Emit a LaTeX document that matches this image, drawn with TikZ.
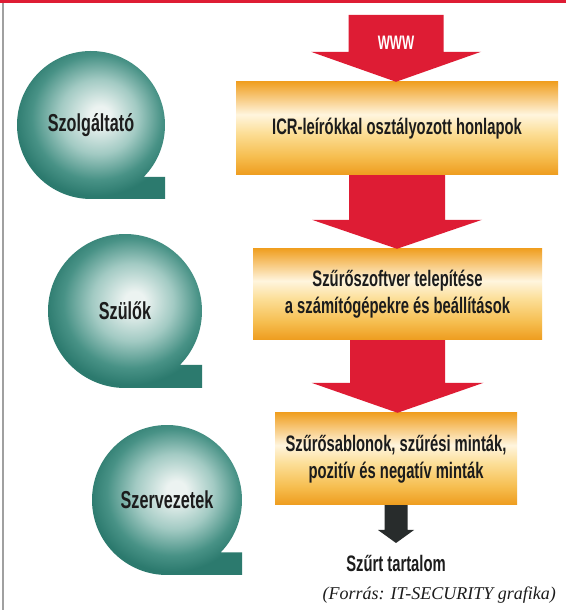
\documentclass[tikz,border=0pt]{standalone}
\usepackage{fontspec}
\setmainfont{Liberation Sans}
\newfontfamily\condf{Liberation Sans}[FakeStretch=0.66]
\newfontfamily\capf{Liberation Serif}
\usetikzlibrary{calc}
\definecolor{qin}{RGB}{236,243,241}
\definecolor{qmid}{RGB}{162,202,195}
\definecolor{qout}{RGB}{72,146,134}
\definecolor{qedge}{RGB}{44,122,110}
\definecolor{arrred}{RGB}{222,28,52}
\definecolor{boxtop}{RGB}{240,160,35}
\definecolor{boxlt}{RGB}{255,245,222}
\definecolor{boxpale}{RGB}{252,222,150}
\definecolor{boxlo}{RGB}{246,190,80}
\definecolor{boxbot}{RGB}{238,156,30}
\definecolor{ink}{RGB}{28,28,28}
\definecolor{darkarr}{RGB}{40,44,44}
\definecolor{framegray}{RGB}{160,160,160}
\pgfdeclareradialshading{qball}{\pgfpoint{3bp}{2bp}}{color(0bp)=(qin); color(3bp)=(qin); color(12bp)=(qmid); color(20bp)=(qout); color(25bp)=(qedge); color(50bp)=(qedge)}
\pgfdeclareverticalshading{boxsh}{100bp}{color(0bp)=(boxbot); color(25bp)=(boxbot); color(35bp)=(boxlo); color(47.5bp)=(boxpale); color(57.5bp)=(boxlt); color(75bp)=(boxtop); color(100bp)=(boxtop)}
\newcommand\blockarrow[6]{%
  \fill[#6] let \p1=(#1), \p2=(#2) in
   (\x1-#3pt,\y1) -- (\x1+#3pt,\y1) -- (\x1+#3pt,\y2+#5pt) -- (\x1+#4pt,\y2+#5pt)
   -- (\x1,\y2) -- (\x1-#4pt,\y2+#5pt) -- (\x1-#3pt,\y2+#5pt) -- cycle;}
\newcommand\qball[2]{%
  \shade[shading=qball] ([shift={({0.714*#2},{-0.7*#2})}]#1)
    arc[start angle=-44.43, end angle=270, radius=#2pt]
    -- ([shift={(#2,-#2)}]#1) -- ([shift={(#2,{-0.7*#2})}]#1) -- cycle;}
\tikzset{
  boxnode/.style={rectangle, inner sep=0pt, align=center, text=ink,
    font=\condf\bfseries\fontsize{22.4}{27}\selectfont,
    shade, shading=boxsh},
  balllabel/.style={text=ink, inner sep=0pt, font=\condf\bfseries\fontsize{24.5}{28}\selectfont},
  redarrow/.style={fill=arrred},
  darkarrow/.style={fill=darkarr},
  outlabel/.style={text=ink, inner sep=0pt, font=\condf\bfseries\fontsize{22.4}{26}\selectfont},
  wwwlabel/.style={text=white, inner sep=0pt, font=\condf\bfseries\fontsize{19.5}{22}\selectfont},
  caplabel/.style={text=ink, inner sep=0pt, font=\capf\itshape\fontsize{18}{22}\selectfont}
}
\begin{document}
\begin{tikzpicture}[x=1pt,y=1pt]
\useasboundingbox (0,0) rectangle (566,610);
\fill[white] (0,0) rectangle (566,610);
% frame
\fill[arrred] (0,607) rectangle (566,610);
\fill[framegray] (2,0) rectangle (3.5,607);
% balls
\coordinate (q1) at (91,485);
\coordinate (q2) at (125,299);
\coordinate (q3) at (167,110);
\qball{q1}{74}
\qball{q2}{77}
\qball{q3}{75}
\node[balllabel] (c1) at (q1) {Szolgáltató};
\node[balllabel] (c2) at (q2) {Szülők};
\node[balllabel] (c3) at (q3) {Szervezetek};
% boxes
\node[boxnode, minimum width=322pt, minimum height=93pt] (b1) at (397,481.5) {ICR-leírókkal osztályozott honlapok};
\node[boxnode, minimum width=289pt, minimum height=91pt] (b2) at (397.5,315.5) {Szűrőszoftver telepítése\\a számítógépekre és beállítások};
\node[boxnode, minimum width=242pt, minimum height=92pt] (b3) at (396,151) {Szűrősablonok, szűrési minták,\\pozitív és negatív minták};
% arrows
\coordinate (wwwtop) at (396,595);
\blockarrow{wwwtop}{b1.north}{47.5}{85}{30}{redarrow}
\blockarrow{b1.south}{b2.north}{48}{85}{29}{redarrow}
\blockarrow{b2.south}{b3.north}{47.5}{86}{30}{redarrow}
\coordinate (outtip) at (397,67);
\blockarrow{b3.south}{outtip}{11.5}{18}{13}{darkarrow}
% labels
\node[wwwlabel] (www) at (396,567) {WWW};
\node[outlabel] (out) at (396,47) {Szűrt tartalom};
\node[caplabel, anchor=base east] (src) at (556,10) {(Forrás: IT-SECURITY grafika)};
\end{tikzpicture}
\end{document}
